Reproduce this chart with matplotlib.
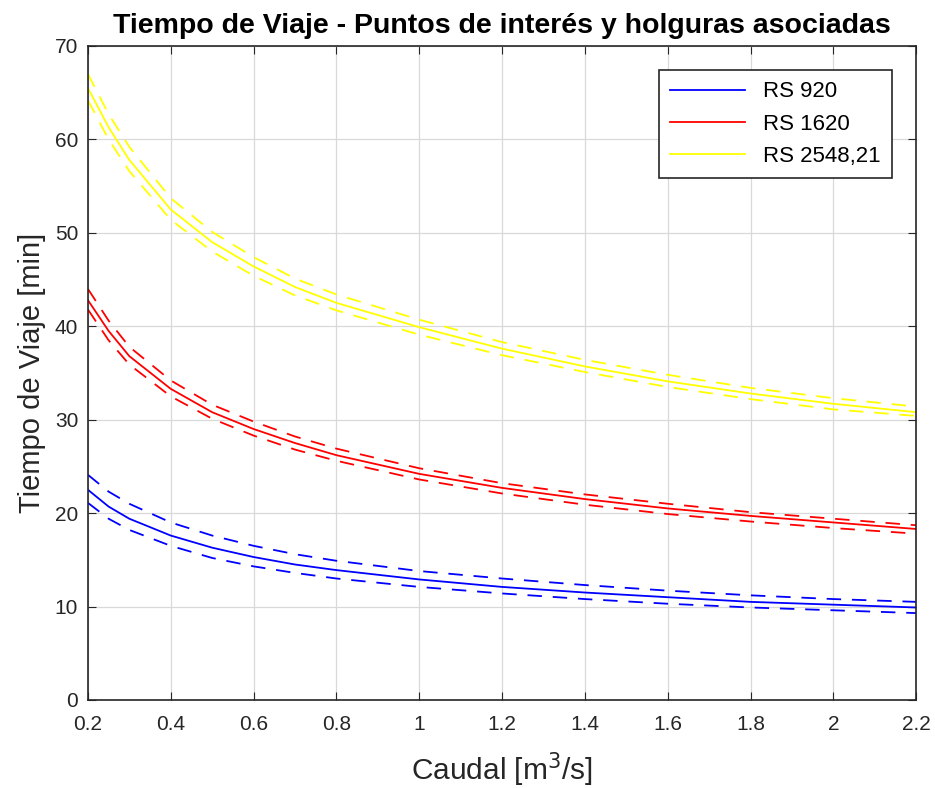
import matplotlib
matplotlib.use("Agg")
from matplotlib import pyplot as plt

plt.rcParams['font.family'] = ['Liberation Sans', 'DejaVu Sans']

# caudal [m3/s]
caudal = [0.2, 0.25, 0.3, 0.4, 0.5, 0.6, 0.7, 0.8, 1.0, 1.2, 1.4, 1.6, 1.8, 2.0, 2.2]

# RS 920
rs920 = [22.5, 20.7, 19.4, 17.6, 16.3, 15.3, 14.5, 13.9, 12.9, 12.1, 11.5, 11.0, 10.5, 10.2, 9.9]
rs920_up = [24.1, 22.3, 21.0, 19.0, 17.6, 16.5, 15.6, 14.9, 13.8, 13.0, 12.3, 11.7, 11.2, 10.8, 10.5]
rs920_lo = [21.1, 19.4, 18.2, 16.5, 15.2, 14.3, 13.6, 13.0, 12.1, 11.4, 10.8, 10.3, 9.9, 9.6, 9.3]

# RS 1620
rs1620 = [42.8, 39.5, 36.8, 33.3, 30.8, 29.0, 27.5, 26.2, 24.2, 22.7, 21.5, 20.5, 19.7, 19.0, 18.3]
rs1620_up = [44.0, 40.6, 37.8, 34.2, 31.6, 29.8, 28.2, 26.9, 24.8, 23.2, 22.0, 21.0, 20.1, 19.4, 18.7]
rs1620_lo = [41.8, 38.5, 35.9, 32.5, 30.1, 28.3, 26.8, 25.6, 23.6, 22.1, 20.9, 19.9, 19.1, 18.4, 17.8]

# RS 2548,21
rs2548 = [65.5, 61.3, 57.8, 52.5, 49.0, 46.4, 44.2, 42.5, 39.9, 37.6, 35.7, 34.1, 32.8, 31.7, 30.8]
rs2548_up = [67.0, 62.7, 59.2, 53.7, 50.1, 47.4, 45.1, 43.4, 40.7, 38.3, 36.4, 34.8, 33.4, 32.3, 31.4]
rs2548_lo = [64.2, 60.0, 56.6, 51.4, 48.0, 45.4, 43.3, 41.7, 39.1, 36.9, 35.1, 33.5, 32.2, 31.1, 30.4]

xticks = [0.2, 0.4, 0.6, 0.8, 1, 1.2, 1.4, 1.6, 1.8, 2, 2.2]
xticklabels = ["0.2", "0.4", "0.6", "0.8", "1", "1.2", "1.4", "1.6", "1.8", "2", "2.2"]
yticks = [0, 10, 20, 30, 40, 50, 60, 70]

fig = plt.figure(figsize=(9.35, 7.88), dpi=100)
ax = fig.add_axes([0.094, 0.1117, 0.886, 0.83])

series = [
    ("RS 920", "#0000ff", rs920, rs920_up, rs920_lo),
    ("RS 1620", "#ff0000", rs1620, rs1620_up, rs1620_lo),
    ("RS 2548,21", "#ffff00", rs2548, rs2548_up, rs2548_lo),
]
for name, col, mid, up, lo in series:
    ax.plot(caudal, mid, color=col, lw=1.3, label=name)
    ax.plot(caudal, up, color=col, lw=1.3, ls=(0, (8, 6)))
    ax.plot(caudal, lo, color=col, lw=1.3, ls=(0, (8, 6)))

ax.set_xlim(0.2, 2.2)
ax.set_ylim(0, 70)
ax.set_xticks(xticks)
ax.set_xticklabels(xticklabels)
ax.set_yticks(yticks)
ax.grid(True, color="#d9d9d9", lw=0.9)
ax.set_axisbelow(True)
ax.tick_params(direction="in", top=True, right=True, labelsize=15, colors="#262626", length=6)
ax.tick_params(axis="x", pad=11)
ax.tick_params(axis="y", pad=7)
for s in ax.spines.values():
    s.set_color("#262626")
    s.set_linewidth(1.2)

ax.set_xlabel("Caudal [m$^3$/s]", fontsize=21.5, color="#262626", labelpad=12)
ax.set_ylabel("Tiempo de Viaje [min]", fontsize=21, color="#262626", labelpad=6)
ax.set_title("Tiempo de Viaje - Puntos de interés y holguras asociadas", fontsize=20.5, fontweight="bold", pad=9)

leg = ax.legend(loc="upper right", fontsize=16, fancybox=False, framealpha=1, edgecolor="#262626",
                handlelength=3.4, borderpad=0.5, labelspacing=0.5, borderaxespad=1.1)
leg.get_frame().set_linewidth(1.2)

fig.savefig("out.png", dpi=100)
